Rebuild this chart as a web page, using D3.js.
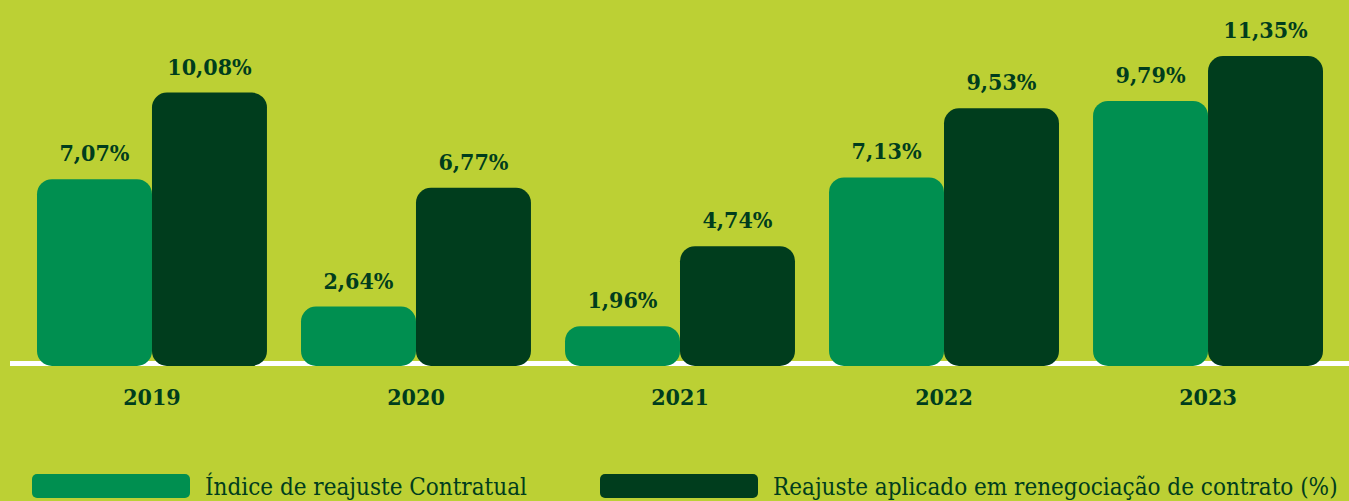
<!DOCTYPE html>
<html>
<head>
<meta charset="utf-8">
<script src="https://cdn.jsdelivr.net/npm/d3@7"></script>
<style>
    body { margin: 0; background: #bcd034; }
    svg { display: block; }
</style>
</head>
<body>
<script>
const width = 1349;
const height = 501;

const years = ['2019', '2020', '2021', '2022', '2023'];
const series_names = ['Índice de reajuste Contratual', 'Reajuste aplicado em renegociação de contrato (%)'];
const indice_values = [7.07, 2.64, 1.96, 7.13, 9.79];
const reajuste_values = [10.08, 6.77, 4.74, 9.53, 11.35];
const series_colors = ['#008f50', '#003d1d'];
const text_color = '#003d1d';

const rows = years.map((year, i) => ({year: year, values: [indice_values[i], reajuste_values[i]]}));

const svg = d3.select('body')
    .append('svg')
    .attr('width', width)
    .attr('height', height);

svg.append('rect')
    .attr('width', width)
    .attr('height', height)
    .attr('fill', '#bcd034');

const baseline = 366;

const x_scale = d3.scaleBand()
    .domain(years)
    .range([37, 1323])
    .paddingInner(0.129)
    .paddingOuter(0);
const x_sub = d3.scaleBand()
    .domain([0, 1])
    .range([0, x_scale.bandwidth()]);
const y_scale = d3.scaleLinear()
    .domain([0.574, 11.35])
    .range([baseline, 56]);

// white base line, sits behind the bars
svg.append('rect')
    .attr('x', 10)
    .attr('y', 361)
    .attr('width', width - 10)
    .attr('height', 5)
    .attr('fill', '#ffffff');

const value_font = '"DejaVu Serif Condensed", "DejaVu Serif", serif';

const groups = svg.append('g').selectAll('g')
    .data(rows)
    .enter().append('g')
    .attr('transform', d => `translate(${x_scale(d.year)},0)`);

groups.selectAll('rect')
    .data(d => d.values.map((v, i) => ({v: v, i: i})))
    .enter().append('rect')
    .attr('x', d => x_sub(d.i))
    .attr('y', d => y_scale(d.v))
    .attr('width', x_sub.bandwidth())
    .attr('height', d => baseline - y_scale(d.v))
    .attr('rx', 15)
    .attr('fill', d => series_colors[d.i]);

groups.selectAll('text.value')
    .data(d => d.values.map((v, i) => ({v: v, i: i})))
    .enter().append('text')
    .attr('class', 'value')
    .attr('x', d => x_sub(d.i) + x_sub.bandwidth() / 2)
    .attr('y', d => y_scale(d.v) - 18)
    .attr('text-anchor', 'middle')
    .attr('font-family', value_font)
    .attr('font-stretch', 'condensed')
    .attr('font-weight', 'bold')
    .attr('font-size', 23)
    .attr('fill', text_color)
    .text(d => d.v.toFixed(2).replace('.', ',') + '%');

svg.append('g').selectAll('text')
    .data(years)
    .enter().append('text')
    .attr('x', d => x_scale(d) + x_scale.bandwidth() / 2)
    .attr('y', 405)
    .attr('text-anchor', 'middle')
    .attr('font-family', value_font)
    .attr('font-stretch', 'condensed')
    .attr('font-weight', 'bold')
    .attr('font-size', 23)
    .attr('fill', text_color)
    .text(d => d);

// legend
const legend_x = [32, 600];
const legend = svg.append('g').selectAll('g')
    .data(series_names)
    .enter().append('g')
    .attr('transform', (d, i) => `translate(${legend_x[i]},474)`);
legend.append('rect')
    .attr('width', 158)
    .attr('height', 24)
    .attr('rx', 5)
    .attr('fill', (d, i) => series_colors[i]);
legend.append('text')
    .attr('x', 173)
    .attr('y', 21)
    .attr('font-family', value_font)
    .attr('font-stretch', 'condensed')
    .attr('font-size', 24)
    .attr('fill', text_color)
    .text(d => d);
</script>
</body>
</html>
